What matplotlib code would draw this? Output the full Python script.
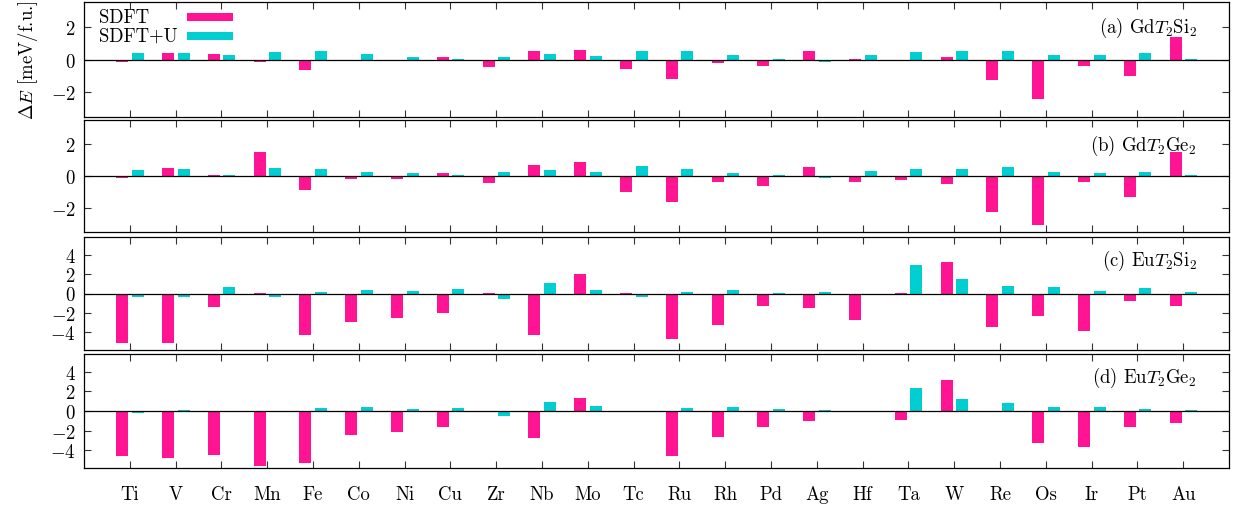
import numpy as np
import matplotlib
matplotlib.use('Agg')
import matplotlib.pyplot as plt
from matplotlib.patches import Rectangle

plt.rcParams['mathtext.fontset'] = 'cm'
plt.rcParams['font.family'] = 'serif'
plt.rcParams['font.serif'] = ['cmr10', 'DejaVu Serif']
plt.rcParams['axes.formatter.use_mathtext'] = True
plt.rcParams['axes.unicode_minus'] = False

# transition metals T
elements = ['Ti', 'V', 'Cr', 'Mn', 'Fe', 'Co', 'Ni', 'Cu', 'Zr', 'Nb', 'Mo', 'Tc',
            'Ru', 'Rh', 'Pd', 'Ag', 'Hf', 'Ta', 'W', 'Re', 'Os', 'Ir', 'Pt', 'Au']

# Delta E [meV/f.u.]
gdsi_sdft = [-0.15, 0.37, 0.33, -0.14, -0.64, -0.10, -0.10, 0.18, -0.43, 0.49, 0.55, -0.60,
             -1.21, -0.23, -0.41, 0.49, 0.05, -0.12, 0.16, -1.23, -2.40, -0.41, -1.00, 1.39]
gdsi_sdftu = [0.37, 0.41, 0.27, 0.45, 0.49, 0.31, 0.18, 0.06, 0.18, 0.35, 0.20, 0.49,
              0.49, 0.25, 0.04, -0.14, 0.25, 0.43, 0.49, 0.49, 0.25, 0.25, 0.37, 0.04]

gdge_sdft = [-0.12, 0.47, 0.06, 1.50, -0.87, -0.19, -0.20, 0.16, -0.43, 0.66, 0.89, -0.99,
             -1.61, -0.35, -0.62, 0.58, -0.35, -0.25, -0.49, -2.25, -3.05, -0.37, -1.32, 1.50]
gdge_sdftu = [0.35, 0.41, 0.04, 0.52, 0.45, 0.27, 0.16, 0.04, 0.23, 0.39, 0.23, 0.60,
              0.43, 0.21, 0.08, -0.14, 0.33, 0.41, 0.41, 0.54, 0.27, 0.16, 0.27, 0.04]

eusi_sdft = [-5.10, -5.10, -1.38, 0.07, -4.31, -2.97, -2.55, -1.97, 0.07, -4.24, 2.00, 0.07,
             -4.66, -3.21, -1.24, -1.48, -2.76, 0.07, 3.28, -3.41, -2.28, -3.86, -0.76, -1.24]
eusi_sdftu = [-0.41, -0.41, 0.66, -0.41, 0.17, 0.41, 0.24, 0.45, -0.59, 1.07, 0.31, -0.41,
              0.17, 0.38, 0.07, 0.14, -0.05, 2.93, 1.45, 0.79, 0.66, 0.21, 0.52, 0.17]

euge_sdft = [-4.54, -4.81, -4.44, -5.56, -5.29, -2.47, -2.10, -1.63, 0.05, -2.71, 1.32, 0.03,
             -4.61, -2.68, -1.66, -0.98, 0.03, -0.88, 3.15, 0.05, -3.29, -3.63, -1.66, -1.19]
euge_sdftu = [-0.24, 0.10, -0.14, -0.10, 0.27, 0.41, 0.20, 0.27, -0.51, 0.88, 0.51, 0.05,
              0.31, 0.41, 0.17, 0.10, 0.03, 2.31, 1.22, 0.81, 0.41, 0.37, 0.24, 0.10]

panels = [
    (r'(a) Gd$T_{\mathrm{2}}$Si$_{\mathrm{2}}$', gdsi_sdft, gdsi_sdftu, 3.5, [-2, 0, 2]),
    (r'(b) Gd$T_{\mathrm{2}}$Ge$_{\mathrm{2}}$', gdge_sdft, gdge_sdftu, 3.5, [-2, 0, 2]),
    (r'(c) Eu$T_{\mathrm{2}}$Si$_{\mathrm{2}}$', eusi_sdft, eusi_sdftu, 5.8, [-4, -2, 0, 2, 4]),
    (r'(d) Eu$T_{\mathrm{2}}$Ge$_{\mathrm{2}}$', euge_sdft, euge_sdftu, 5.8, [-4, -2, 0, 2, 4]),
]

pink = '#ff1493'
cyan = '#00ced1'
fs = 13.5

W, H = 1239, 506
fig = plt.figure(figsize=(W / 100, H / 100), dpi=100)

# panel frames in pixels (top, bottom)
frames = [(3, 118), (121, 233), (238, 351), (355, 469)]
left, right = 84, 1229

x = np.arange(len(elements))
bw = 0.26

axes = []
for (top, bot), (label, s1, s2, lim, yt) in zip(frames, panels):
    ax = fig.add_axes([left / W, (H - bot) / H, (right - left) / W, (bot - top) / H])
    ax.bar(x - 0.165, s1, width=bw, color=pink, linewidth=0)
    ax.bar(x + 0.175, s2, width=bw, color=cyan, linewidth=0)
    ax.axhline(0, color='black', lw=0.9)
    ax.set_xlim(-1, len(elements))
    ax.set_ylim(-lim, lim)
    ax.set_yticks(yt)
    ax.set_xticks(x)
    ax.tick_params(direction='in', top=True, right=True, length=5, width=0.8,
                   color='#333333', labelsize=fs, pad=6)
    ax.tick_params(axis='x', labelbottom=False)
    for sp in ax.spines.values():
        sp.set_linewidth(0.9)
    ax.text(0.972, 0.78 if lim < 4 else 0.8, label, transform=ax.transAxes,
            ha='right', va='center', fontsize=fs)
    axes.append(ax)

axes[-1].tick_params(axis='x', labelbottom=True, pad=12)
axes[-1].set_xticklabels(elements)

axes[0].set_ylabel(r'$\Delta E$ [meV/f.u.]', fontsize=fs, labelpad=8)

# legend, gnuplot style: text left, sample right
ax = axes[0]
for yy, txt, c in [(0.87, 'SDFT', pink), (0.705, 'SDFT+U', cyan)]:
    ax.text(0.013, yy, txt, transform=ax.transAxes, ha='left', va='center', fontsize=fs)
    ax.add_patch(Rectangle((0.0900, yy - 0.035), 0.040, 0.07, transform=ax.transAxes,
                           color=c, linewidth=0))

fig.savefig('out.png', dpi=100)
